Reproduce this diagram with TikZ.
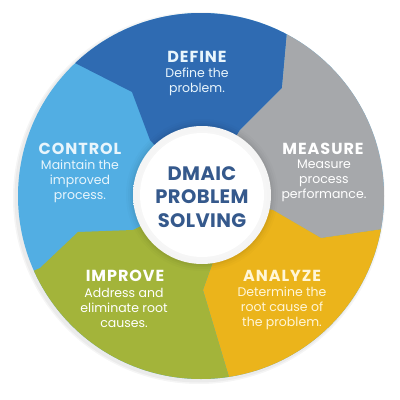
\documentclass[tikz,border=0pt]{standalone}
\usepackage{fontspec}
\setmainfont{Poppins}
\definecolor{cDefine}{HTML}{2F6BB2}
\definecolor{cControl}{HTML}{52AEE3}
\definecolor{cMeasure}{HTML}{A6A8AB}
\definecolor{cAnalyze}{HTML}{EBB41B}
\definecolor{cImprove}{HTML}{A3B43A}
\definecolor{cCenter}{HTML}{35598C}
\definecolor{tBlue}{HTML}{E8F5FC}
\definecolor{tYel}{HTML}{FFF6D8}
\begin{document}
\begin{tikzpicture}[x=1pt,y=-1pt,
  headtxt/.style={font=\bfseries\fontsize{16}{18}\selectfont\addfontfeature{LetterSpace=6}, inner sep=0pt},
  bodytxt/.style={align=center, font=\fontsize{12.5}{15}\selectfont, inner sep=0pt},
  centertxt/.style={align=center, text=cCenter, font=\bfseries\fontsize{19.5}{23.5}\selectfont\addfontfeature{LetterSpace=2}, inner sep=0pt}]
\useasboundingbox (0,0) rectangle (400,400);
\fill[white] (0,0) rectangle (400,400);
\coordinate (C) at (201,196);
\coordinate (IC) at (202,195);
% soft outer shadow
\fill[black, opacity=0.04] (199,198) circle (186pt);
\fill[black, opacity=0.04] (199,198) circle (184.5pt);
\begin{scope}
\clip (C) circle (183pt);
\fill[cControl] (C) circle (190pt);
\fill[cDefine] (C) -- (150,140) -- (132,92) -- (75,63) -- (-51,-70) -- (201,-250) -- (373,-132) -- (287,32) -- (282,88) -- (240,130) -- cycle;
\fill[cMeasure] (C) -- (240,130) -- (282,88) -- (287,32) -- (373,-132) -- (600,0) -- (565,262) -- (383,229) -- (321,238) -- (273,210) -- cycle;
\fill[cAnalyze] (C) -- (273,210) -- (321,238) -- (383,229) -- (565,262) -- (500,560) -- (257,558) -- (229,377) -- (203,290) -- (214,259) -- cycle;
\fill[cImprove] (C) -- (214,259) -- (203,290) -- (229,377) -- (257,558) -- (0,560) -- (-121,340) -- (40,268) -- (78,232) -- (133,230) -- cycle;
\end{scope}
% inner circle glow
\foreach \r/\o in {76/0.015, 74/0.02, 72/0.025, 70.5/0.03} {
  \fill[black, opacity=\o] (IC) circle (\r pt);
}
\shade[inner color=white, outer color=black!4] (IC) circle (69pt);
\fill[white] (IC) circle (62pt);
% labels
\node[headtxt, text=tBlue] (hD) at (197,57) {DEFINE};
\node[bodytxt, text=tBlue] (bD) at (197,82) {Define the\\problem.};
\node[headtxt, text=tBlue] (hC) at (80,149) {CONTROL};
\node[bodytxt, text=tBlue] (bC) at (80,181) {Maintain the\\improved\\process.};
\node[headtxt, text=white] (hM) at (323,149) {MEASURE};
\node[bodytxt, text=white] (bM) at (324,181) {Measure\\process\\performance.};
\node[headtxt, text=tYel] (hA) at (282,276) {ANALYZE};
\node[bodytxt, text=tYel] (bA) at (282,308) {Determine the\\root cause of\\the problem.};
\node[headtxt, text=white] (hI) at (125,276) {IMPROVE};
\node[bodytxt, text=white] (bI) at (124,308) {Address and\\eliminate root\\causes.};
\node[centertxt] (ctr) at (202,197) {DMAIC\\PROBLEM\\SOLVING};
\end{tikzpicture}
\end{document}
